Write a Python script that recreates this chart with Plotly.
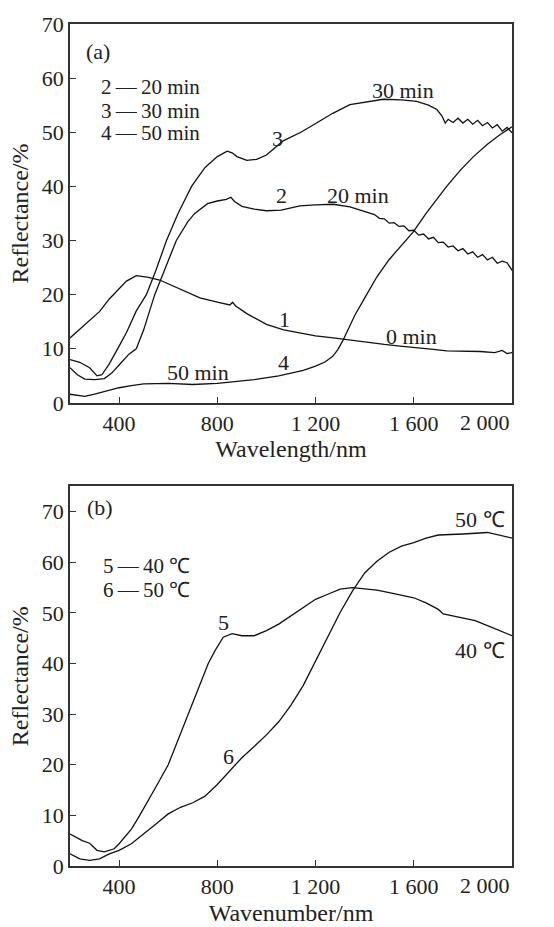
import plotly.graph_objects as go

# ---------------- Panel (a) data ----------------
wl_1 = [200, 220, 239, 270, 321, 360, 389, 430, 470, 520, 565, 650, 729, 800, 851, 862, 875, 920,
        1000, 1070, 1136, 1200, 1272, 1340, 1408, 1480, 1544, 1620, 1680, 1734, 1800, 1870, 1930,
        1960, 1980, 2000]
refl_1 = [12.0, 12.8, 13.5, 14.8, 16.9, 19.2, 20.6, 22.5, 23.5, 23.2, 22.7, 21.0, 19.4, 18.6, 18.1,
          18.6, 17.9, 16.5, 14.5, 13.5, 12.9, 12.4, 12.0, 11.6, 11.1, 10.8, 10.5, 10.2, 9.9, 9.6,
          9.6, 9.5, 9.3, 9.7, 9.1, 9.3]

wl_2 = [200, 230, 260, 300, 340, 370, 400, 440, 470, 500, 545, 590, 633, 680, 708, 760, 800, 837,
        855, 870, 900, 950, 1000, 1060, 1136, 1200, 1272, 1340, 1408,
        1440, 1460, 1480, 1500, 1520, 1540, 1560, 1580, 1600, 1620, 1640, 1660, 1680, 1700, 1720,
        1740, 1760, 1780, 1800, 1820, 1840, 1860, 1880, 1900, 1920, 1940, 1960, 1980, 2000]
refl_2 = [6.5, 5.2, 4.4, 4.3, 4.5, 5.5, 7.0, 9.0, 10.0, 13.5, 20.0, 25.0, 30.0, 33.5, 35.0, 36.8,
          37.3, 37.6, 38.0, 37.2, 36.3, 35.8, 35.5, 35.6, 36.4, 36.6, 36.7, 36.2, 35.2,
          34.8, 34.1, 34.0, 33.2, 33.3, 32.6, 32.7, 31.8, 31.9, 31.0, 31.2, 30.3, 30.6, 29.6, 29.7,
          28.8, 29.0, 28.1, 28.5, 27.5, 27.9, 26.9, 27.4, 26.4, 26.9, 25.8, 26.2, 25.9, 24.5]

wl_3 = [200, 240, 280, 310, 330, 360, 400, 430, 470, 511, 550, 593, 640, 695, 750, 800, 840, 860,
        880, 920, 960, 1000, 1068, 1140, 1204, 1270, 1340, 1400, 1476, 1550, 1612, 1660, 1694,
        1715, 1728, 1740, 1760, 1780, 1800, 1820, 1840, 1860, 1880, 1900, 1920, 1940, 1960,
        1980, 2000]
refl_3 = [8.0, 7.5, 6.5, 5.0, 5.2, 7.2, 10.5, 13.0, 17.0, 20.0, 24.5, 30.0, 35.0, 40.0, 43.5, 45.5,
          46.5, 46.2, 45.5, 44.8, 45.0, 45.8, 48.4, 50.0, 51.7, 53.5, 55.1, 55.6, 56.1, 56.0, 55.7,
          55.0, 54.2, 53.0, 51.7, 52.4, 51.8, 52.6, 51.7, 52.4, 51.5, 52.2, 51.2, 51.8, 50.8,
          51.4, 50.2, 50.9, 49.9]

wl_4 = [200, 230, 260, 300, 350, 400, 450, 500, 600, 700, 800, 860, 950, 1050, 1150, 1200, 1240,
        1270, 1290, 1310, 1335, 1360, 1408, 1450, 1500, 1550, 1598, 1650, 1700, 1734, 1790, 1843,
        1900, 1952, 2000]
refl_4 = [1.6, 1.4, 1.2, 1.6, 2.2, 2.8, 3.2, 3.5, 3.6, 3.4, 3.6, 3.9, 4.3, 5.0, 6.0, 6.8, 7.6, 8.6,
          9.8, 11.4, 13.8, 16.2, 20.0, 23.3, 26.5, 29.0, 31.6, 35.0, 38.0, 40.0, 43.0, 45.5, 47.8,
          49.6, 51.0]

# ---------------- Panel (b) data ----------------
wl_5 = [200, 250, 280, 310, 340, 380, 400, 450, 484, 520, 560, 600, 640, 681, 720, 763, 790, 824,
        860, 900, 950, 1000, 1050, 1100, 1150, 1200, 1250, 1300, 1350, 1400, 1450, 1500, 1550,
        1600, 1650, 1700, 1720, 1760, 1800, 1850, 1900, 1950, 2000]
refl_5 = [6.3, 5.0, 4.5, 3.1, 2.8, 3.4, 4.4, 7.3, 10.0, 13.0, 16.5, 20.0, 25.0, 30.0, 35.0, 40.0,
          42.5, 45.2, 45.9, 45.5, 45.5, 46.5, 47.8, 49.4, 51.0, 52.7, 53.7, 54.7, 55.0, 54.7, 54.5,
          54.0, 53.5, 53.0, 52.0, 50.7, 49.8, 49.4, 49.1, 48.5, 47.5, 46.5, 45.5]

wl_6 = [200, 240, 280, 320, 360, 400, 450, 500, 550, 600, 650, 700, 750, 800, 850, 900, 950, 1000,
        1050, 1100, 1150, 1200, 1250, 1300, 1350, 1400, 1450, 1500, 1550, 1600, 1650, 1700, 1800,
        1900, 2000]
refl_6 = [2.4, 1.4, 1.1, 1.4, 2.4, 3.1, 4.4, 6.3, 8.3, 10.3, 11.6, 12.5, 13.8, 16.1, 18.7, 21.4,
          23.6, 25.9, 28.5, 31.8, 35.7, 40.6, 45.2, 50.1, 54.3, 57.9, 60.2, 62.0, 63.2, 63.9, 64.8,
          65.4, 65.6, 65.9, 64.8]

x_tick_vals = [400, 800, 1200, 1600, 2000]
x_tick_text = ["400", "800", "1 200", "1 600", ""]
x_last_tick_label = "2 000"   # drawn right-aligned at the axis end, as in the original
y_tick_vals_a = [0, 10, 20, 30, 40, 50, 60, 70]
y_tick_vals_b = [0, 10, 20, 30, 40, 50, 60, 70]

FONT = "Liberation Serif"
TXT = "#222222"
LINE = dict(color="#111111", width=1.3)

fig = go.Figure()
for xs, ys in [(wl_1, refl_1), (wl_2, refl_2), (wl_3, refl_3), (wl_4, refl_4)]:
    fig.add_trace(go.Scatter(x=xs, y=ys, mode="lines", line=LINE, xaxis="x", yaxis="y",
                             showlegend=False, hoverinfo="skip"))
for xs, ys in [(wl_5, refl_5), (wl_6, refl_6)]:
    fig.add_trace(go.Scatter(x=xs, y=ys, mode="lines", line=LINE, xaxis="x2", yaxis="y2",
                             showlegend=False, hoverinfo="skip"))

axis_common = dict(showline=True, mirror=True, linecolor="#333333", linewidth=1.5,
                   ticks="inside", ticklen=6, tickwidth=1.3, tickcolor="#333333",
                   showgrid=False, zeroline=False,
                   tickfont=dict(family=FONT, size=22, color=TXT))

fig.update_layout(
    width=554, height=927,
    margin=dict(l=70, r=42, t=17, b=61),
    paper_bgcolor="white", plot_bgcolor="white",
    font=dict(family=FONT, size=22, color=TXT),
    xaxis=dict(domain=[0, 1], range=[200, 2000], anchor="y", automargin=False,
               tickvals=x_tick_vals, ticktext=x_tick_text,
               title=dict(text="Wavelength/nm", font=dict(family=FONT, size=24), standoff=4),
               **axis_common),
    yaxis=dict(domain=[0.550, 1.0], range=[0, 70], anchor="x", tickvals=y_tick_vals_a,
               title=dict(text="Reflectance/%", font=dict(family=FONT, size=24), standoff=6),
               **axis_common),
    xaxis2=dict(domain=[0, 1], range=[200, 2000], anchor="y2", automargin=False,
                tickvals=x_tick_vals, ticktext=x_tick_text,
                title=dict(text="Wavenumber/nm", font=dict(family=FONT, size=24), standoff=6),
                **axis_common),
    yaxis2=dict(domain=[0, 0.4508], range=[0, 75], anchor="x2", tickvals=y_tick_vals_b,
                title=dict(text="Reflectance/%", font=dict(family=FONT, size=24), standoff=6),
                **axis_common),
)


def add_text(text, x, y, xref, yref, xanchor="center", size=22, yshift=0):
    fig.add_annotation(text=text, x=x, y=y, xref=xref, yref=yref, showarrow=False,
                       xanchor=xanchor, yanchor="middle", yshift=yshift,
                       font=dict(family=FONT, size=size, color=TXT))


# last x tick label of each panel
add_text(x_last_tick_label, x_tick_vals[-1], 0, "x", "y", "right", 22, -20)
add_text(x_last_tick_label, x_tick_vals[-1], 0, "x2", "y2", "right", 22, -20)

# panel (a) labels
add_text("(a)", 258, 65.0, "x", "y", "left")
add_text("2\u2009\u2014\u200920 min", 318, 58.3, "x", "y", "left", 21)
add_text("3\u2009\u2014\u200930 min", 318, 54.0, "x", "y", "left", 21)
add_text("4\u2009\u2014\u200950 min", 318, 49.8, "x", "y", "left", 21)
add_text("3", 1047, 48.9, "x", "y")
add_text("2", 1062, 38.3, "x", "y")
add_text("20 min", 1374, 38.3, "x", "y")
add_text("30 min", 1556, 57.8, "x", "y")
add_text("1", 1075, 15.4, "x", "y")
add_text("0 min", 1592, 12.3, "x", "y")
add_text("4", 1068, 7.5, "x", "y")
add_text("50 min", 721, 5.7, "x", "y")

# panel (b) labels
add_text("(b)", 262, 70.8, "x2", "y2", "left")
add_text("5\u2009\u2014\u200940 \u2103", 326, 59.3, "x2", "y2", "left", 21)
add_text("6\u2009\u2014\u200950 \u2103", 326, 54.6, "x2", "y2", "left", 21)
add_text("5", 824, 48.1, "x2", "y2")
add_text("6", 844, 21.7, "x2", "y2")
add_text("50 \u2103", 1870, 68.4, "x2", "y2")
add_text("40 \u2103", 1870, 42.6, "x2", "y2")

fig.write_html("out.html")
